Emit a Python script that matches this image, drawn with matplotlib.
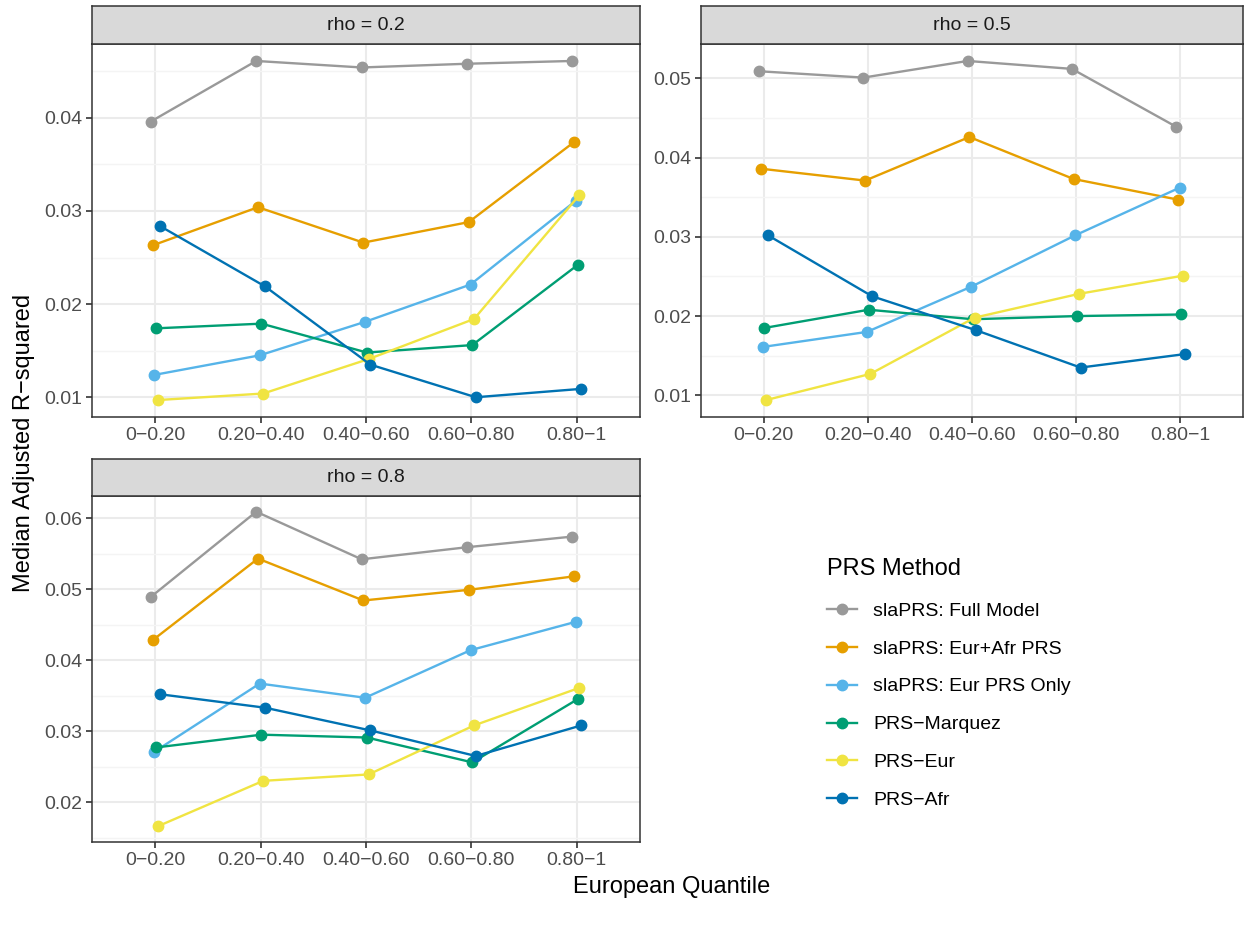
import numpy as np
import matplotlib
matplotlib.use("Agg")
import matplotlib.pyplot as plt
from matplotlib.ticker import MultipleLocator, FormatStrFormatter

plt.rcParams['font.family'] = ['Liberation Sans', 'DejaVu Sans']

# x categories (European ancestry quantile)
quantiles = ["0−0.20", "0.20−0.40", "0.40−0.60", "0.60−0.80", "0.80−1"]

methods = ["slaPRS: Full Model", "slaPRS: Eur+Afr PRS", "slaPRS: Eur PRS Only",
           "PRS−Marquez", "PRS−Eur", "PRS−Afr"]
colors = ["#999999", "#E69F00", "#56B4E9", "#009E73", "#F0E442", "#0072B2"]

# median adjusted R2, one row per method (same order as methods)
rho_02 = [
    [0.0396, 0.0461, 0.0454, 0.0458, 0.0461],
    [0.0263, 0.0304, 0.0266, 0.0288, 0.0374],
    [0.0124, 0.0145, 0.0181, 0.0221, 0.0311],
    [0.0174, 0.0179, 0.0148, 0.0156, 0.0242],
    [0.0097, 0.0104, 0.0141, 0.0184, 0.0317],
    [0.0284, 0.0219, 0.0135, 0.0100, 0.0109],
]
rho_05 = [
    [0.0509, 0.0501, 0.0522, 0.0512, 0.0439],
    [0.0386, 0.0371, 0.0426, 0.0373, 0.0347],
    [0.0161, 0.0180, 0.0237, 0.0302, 0.0362],
    [0.0185, 0.0208, 0.0196, 0.0200, 0.0202],
    [0.0094, 0.0127, 0.0198, 0.0228, 0.0251],
    [0.0302, 0.0225, 0.0182, 0.0135, 0.0152],
]
rho_08 = [
    [0.0489, 0.0609, 0.0542, 0.0559, 0.0574],
    [0.0428, 0.0543, 0.0484, 0.0499, 0.0518],
    [0.0271, 0.0367, 0.0347, 0.0414, 0.0454],
    [0.0277, 0.0295, 0.0291, 0.0256, 0.0345],
    [0.0166, 0.0230, 0.0239, 0.0308, 0.0361],
    [0.0352, 0.0333, 0.0301, 0.0265, 0.0308],
]
panel_titles = ["rho = 0.2", "rho = 0.5", "rho = 0.8"]

W, H = 1244, 927
fig = plt.figure(figsize=(W / 100, H / 100), dpi=100)


def box(l, t, r, b):
    # pixel box (top-left origin) -> figure fraction
    return [l / W, 1 - b / H, (r - l) / W, (b - t) / H]


# (left, strip top, plot top, right, plot bottom)
layout = [
    (92, 6, 44, 640, 417),
    (701, 6, 44, 1243, 417),
    (92, 459, 496, 640, 842),
]

x = np.arange(1, len(quantiles) + 1)
dodge = 0.1
n = len(methods)
offsets = (np.arange(n) - (n - 1) / 2) * dodge / n

for data, title, (l, st, t, r, b) in zip([rho_02, rho_05, rho_08], panel_titles, layout):
    ax = fig.add_axes(box(l, t, r, b))
    for i in range(n):
        ax.plot(x + offsets[i], data[i], color=colors[i], lw=1.7,
                marker="o", ms=7.5, zorder=3 + i)
    vals = np.array(data)
    lo, hi = vals.min(), vals.max()
    pad = (hi - lo) * 0.05
    ax.set_ylim(lo - pad, hi + pad)
    ax.set_xlim(0.4, len(quantiles) + 0.6)
    ax.set_xticks(x)
    ax.set_xticklabels(quantiles)
    ax.yaxis.set_major_locator(MultipleLocator(0.01))
    ax.yaxis.set_minor_locator(MultipleLocator(0.005))
    ax.yaxis.set_major_formatter(FormatStrFormatter("%.2f"))
    ax.grid(True, which="major", color="#EBEBEB", lw=1.5, zorder=0)
    ax.grid(True, which="minor", axis="y", color="#F4F4F4", lw=1.0, zorder=0)
    ax.tick_params(axis="both", which="major", length=4, width=1.2, color="#333333",
                   labelsize=14, labelcolor="#4D4D4D", pad=3)
    ax.tick_params(axis="y", which="minor", length=0)
    for s in ax.spines.values():
        s.set_color("#333333")
        s.set_linewidth(1.1)
    ax.set_axisbelow(True)

    # facet strip
    sax = fig.add_axes(box(l, st, r, t))
    sax.set_facecolor("#D9D9D9")
    sax.set_xticks([])
    sax.set_yticks([])
    for s in sax.spines.values():
        s.set_color("#333333")
        s.set_linewidth(1.1)
    sax.text(0.5, 0.5, title, ha="center", va="center", fontsize=14,
             color="#1A1A1A", transform=sax.transAxes)

fig.text(24 / W, 1 - 443 / H, "Median Adjusted R−squared", rotation=90,
         ha="center", va="center", fontsize=17)
fig.text(672 / W, 1 - 887 / H, "European Quantile", ha="center", va="center",
         fontsize=17)

handles = [plt.Line2D([], [], color=c, lw=1.7, marker="o", ms=7.5) for c in colors]
leg = fig.legend(handles, methods, loc="upper left",
                 bbox_to_anchor=(827 / W, 1 - 558 / H), frameon=False,
                 title="PRS Method", title_fontsize=17, fontsize=14,
                 labelspacing=1.04, handlelength=1.55, handletextpad=0.82,
                 borderpad=0, borderaxespad=0, alignment="left")
leg._legend_box.sep = 16

fig.savefig("out.png", dpi=100)
